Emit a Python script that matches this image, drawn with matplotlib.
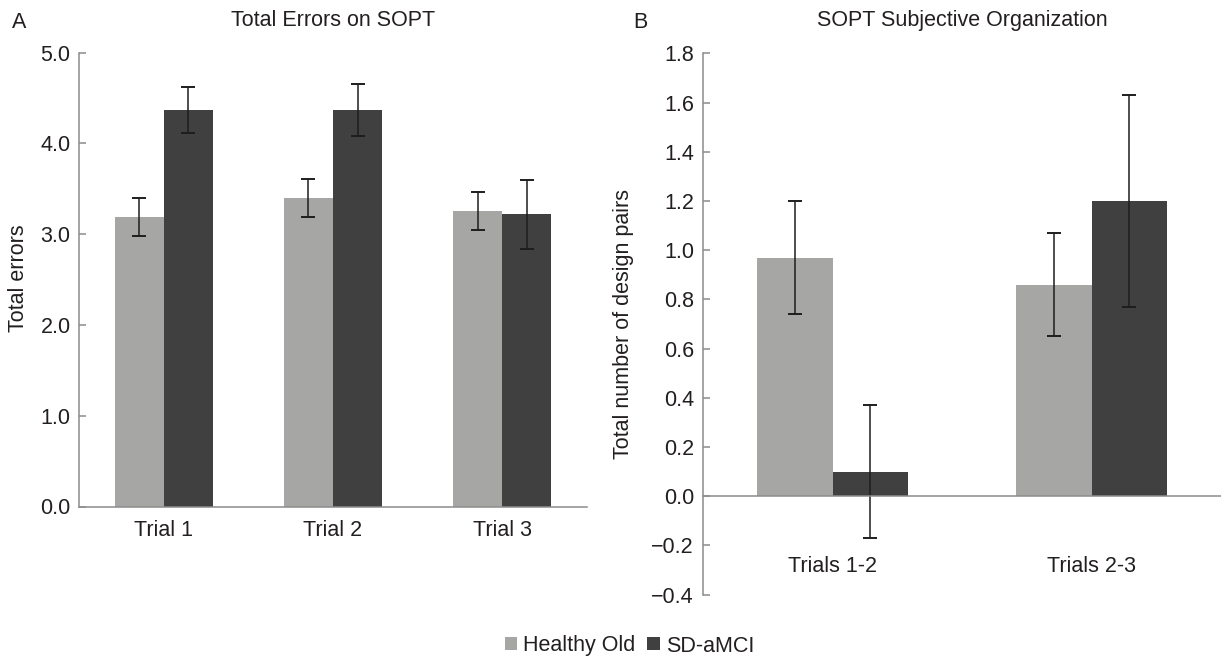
import matplotlib
matplotlib.use("Agg")
import matplotlib.pyplot as plt
import numpy as np
from matplotlib.patches import Patch

plt.rcParams['font.family'] = ['Liberation Sans', 'DejaVu Sans']

# Panel A data
trials_a = ["Trial 1", "Trial 2", "Trial 3"]
healthy_a = [3.19, 3.40, 3.26]
healthy_a_err = [0.21, 0.21, 0.21]
mci_a = [4.37, 4.37, 3.22]
mci_a_err = [0.25, 0.29, 0.38]

# Panel B data
trials_b = ["Trials 1-2", "Trials 2-3"]
healthy_b = [0.97, 0.86]
healthy_b_err = [0.23, 0.21]
mci_b = [0.10, 1.20]
mci_b_err = [0.27, 0.43]

series_names = ["Healthy Old", "SD-aMCI"]
yticks_a = [0.0, 1.0, 2.0, 3.0, 4.0, 5.0]
yticks_b = [-0.4, -0.2, 0.0, 0.2, 0.4, 0.6, 0.8, 1.0, 1.2, 1.4, 1.6, 1.8]

LIGHT = "#a6a6a5"
DARK = "#404040"
SPINE = "#8c8c8c"
TEXT = "#231f20"
ERR = "#1e1e1e"
FS = 15.5

W, H = 1221, 658
fig = plt.figure(figsize=(W / 100, H / 100), dpi=100)
axA = fig.add_axes([79 / W, 1 - 506.5 / H, (587 - 79) / W, (506.5 - 52.7) / H])
axB = fig.add_axes([703 / W, 1 - 594.7 / H, (1221 - 703) / W, (594.7 - 53.3) / H])

w = 0.29
ekw = dict(ecolor=ERR, elinewidth=1.1, capsize=4.8, capthick=1.4)

def style(ax, yticks, fmt, pad):
    for s in ("top", "right"):
        ax.spines[s].set_visible(False)
    for s in ("left", "bottom"):
        ax.spines[s].set_color(SPINE)
        ax.spines[s].set_linewidth(1.1)
    ax.set_yticks(yticks)
    ax.set_yticklabels([fmt(v) for v in yticks])
    ax.tick_params(axis="y", direction="in", length=5, width=1.1, color=SPINE,
                   labelsize=FS, labelcolor=TEXT, pad=pad)
    ax.tick_params(axis="x", length=0, labelsize=FS, labelcolor=TEXT)

# Panel A
xa = np.arange(len(trials_a))
axA.bar(xa - w / 2, healthy_a, w, color=LIGHT, yerr=healthy_a_err, error_kw=ekw, zorder=2)
axA.bar(xa + w / 2, mci_a, w, color=DARK, yerr=mci_a_err, error_kw=ekw, zorder=2)
axA.set_xlim(-0.5, 2.5)
axA.set_ylim(0, 5.0)
style(axA, yticks_a, lambda v: f"{v:.1f}", 6)
axA.set_xticks(xa)
axA.set_xticklabels(trials_a)
axA.tick_params(axis="x", pad=10)
axA.set_title("Total Errors on SOPT", fontsize=FS, color=TEXT, pad=19.4)
fig.text(19 / W, 1 - 278 / H, "Total errors", fontsize=FS, color=TEXT,
         rotation=90, ha="center", va="center")
fig.text(12 / W, 1 - 28.3 / H, "A", fontsize=FS, color=TEXT, va="baseline", ha="left")

# Panel B
xb = np.arange(len(trials_b))
axB.bar(xb - w / 2, healthy_b, w, color=LIGHT, yerr=healthy_b_err, error_kw=ekw, zorder=2)
axB.bar(xb + w / 2, mci_b, w, color=DARK, yerr=mci_b_err, error_kw=ekw, zorder=2)
axB.set_xlim(-0.5, 1.5)
axB.set_ylim(-0.4, 1.8)
style(axB, yticks_b, lambda v: f"{v:.1f}".replace("-", "\u2212"), 6.5)
axB.spines["bottom"].set_position(("data", 0))
axB.set_xticks(xb)
axB.set_xticklabels(trials_b)
axB.tick_params(axis="x", pad=43)
axB.set_title("SOPT Subjective Organization", fontsize=FS, color=TEXT, pad=19.4)
fig.text(624 / W, 1 - 324 / H, "Total number of design pairs", fontsize=FS, color=TEXT,
         rotation=90, ha="center", va="center")
fig.text(633 / W, 1 - 28.3 / H, "B", fontsize=FS, color=TEXT, va="baseline", ha="left")

handles = [Patch(facecolor=LIGHT, edgecolor="none"), Patch(facecolor=DARK, edgecolor="none")]
fig.legend(handles, series_names, loc="center", bbox_to_anchor=(629.5 / W, 1 - 646 / H), ncol=2,
           frameon=False, fontsize=FS, handlelength=0.56, handleheight=0.56,
           handletextpad=0.3, columnspacing=0.56, labelcolor=TEXT,
           borderpad=0, borderaxespad=0)

fig.savefig("out.png", dpi=100)
